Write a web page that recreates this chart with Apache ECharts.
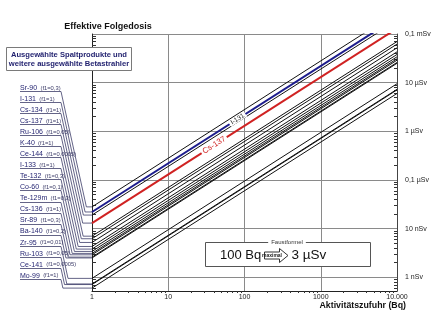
<!DOCTYPE html>
<html><head><meta charset="utf-8">
<script src="https://cdn.jsdelivr.net/npm/echarts@6/dist/echarts.min.js"></script>
<style>html,body{margin:0;padding:0;background:#fff}#c{width:440px;height:330px}</style>
</head><body><div id="c"></div>
<script>
// ---- data ----
const nuclides = ['Sr-90','I-131','Cs-134','Cs-137','Ru-106','K-40','Ce-144','I-133','Te-132','Co-60','Te-129m','Cs-136','Sr-89','Ba-140','Zr-95','Ru-103','Ce-141','Mo-99'];
const f1Values = ['0,3','1','1','1','0,05','1','0,0005','1','0,3','0,1','0,3','1','0,3','0,2','0,01','0,05','0,0005','1'];
// dose per Bq (Sv/Bq) = value of each line at 1 Bq
const doseCoefficients = [2.8e-8,2.2e-8,1.9e-8,1.3e-8,7.0e-9,6.2e-9,5.2e-9,4.3e-9,3.8e-9,3.4e-9,3.1e-9,2.9e-9,2.6e-9,2.5e-9,9.5e-10,7.3e-10,7.1e-10,6.0e-10];
const activityRange = [1, 10000];
const xTickValues = [1, 10, 100, 1000, 10000];
const xTickLabels = ['1', '10', '100', '1000', '10.000'];
const yTickValues = [1e-4, 1e-5, 1e-6, 1e-7, 1e-8, 1e-9];
const yTickLabels = ['0,1 mSv', '10 µSv', '1 µSv', '0,1 µSv', '10 nSv', '1 nSv'];
const yRange = [5.23e-10, 1e-4];

// ---- helpers ----
const FONT = "'Liberation Sans', Arial, sans-serif";
function labelFor(vals, labels) {
  return function (v) {
    for (let i = 0; i < vals.length; i++) {
      if (Math.abs(Math.log10(v) - Math.log10(vals[i])) < 1e-6) return labels[i];
    }
    return '';
  };
}
function minorTicks(lo, hi) {
  const out = [];
  for (let e = lo; e < hi; e++) for (let m = 2; m <= 9; m++) out.push(+(m * Math.pow(10, e)).toPrecision(6));
  return out;
}
const xMinor = minorTicks(0, 4);
const yMinor = minorTicks(-10, -4).filter(v => v >= yRange[0] && v <= yRange[1]);

const chart = echarts.init(document.getElementById('c'), null, { renderer: 'canvas' });

const series = nuclides.map((n, i) => {
  const c = doseCoefficients[i];
  const special = n === 'I-131' ? '#1c1c8c' : (n === 'Cs-137' ? '#d02222' : null);
  const s = {
    type: 'line', name: n, xAxisIndex: 0, yAxisIndex: 0,
    data: activityRange.map(a => [a, c * a]),
    symbol: 'none', clip: true, silent: true, animation: false,
    lineStyle: { color: special || '#111', width: special ? 2 : 1 },
    z: special ? 4 : 3
  };
  if (n === 'I-131') {
    s.markPoint = { symbol: 'circle', symbolSize: 0, silent: true, animation: false,
      data: [{ coord: [81, c * 81] }],
      label: { show: true, formatter: 'I-131', rotate: 32.5, color: '#222', fontSize: 6.5, fontFamily: FONT,
        backgroundColor: '#fff', padding: [0, 2], lineHeight: 6, position: 'inside' } };
  }
  if (n === 'Cs-137') {
    s.markPoint = { symbol: 'circle', symbolSize: 0, silent: true, animation: false,
      data: [{ coord: [40, c * 40] }],
      label: { show: true, formatter: 'Cs-137', rotate: 32.5, color: '#d02222', fontSize: 8, fontFamily: FONT,
        backgroundColor: '#fff', padding: [0, 2], lineHeight: 8, position: 'inside' } };
  }
  return s;
});

const gridCol = '#8a8a8a';
const option = {
  animation: false,
  backgroundColor: '#fff',
  textStyle: { fontFamily: FONT },
  grid: { left: 92, right: 43, top: 34, bottom: 39, containLabel: false },
  xAxis: [
    { type: 'log', logBase: 10, min: activityRange[0], max: activityRange[1], position: 'bottom',
      axisLine: { show: true, lineStyle: { color: '#222', width: 1 } },
      axisTick: { show: false },
      splitLine: { show: true, lineStyle: { color: gridCol, width: 1 } },
      axisLabel: { show: true, fontSize: 7, color: '#222', margin: 3, formatter: labelFor(xTickValues, xTickLabels) } },
    { type: 'log', logBase: 10, min: activityRange[0], max: activityRange[1], position: 'bottom',
      axisLine: { show: false }, splitLine: { show: false }, axisLabel: { show: false },
      axisTick: { show: true, inside: false, length: 2, customValues: xMinor, lineStyle: { color: '#333' } } }
  ],
  yAxis: [
    { type: 'log', logBase: 10, min: yRange[0], max: yRange[1], position: 'left',
      axisLine: { show: true, lineStyle: { color: '#222', width: 1 } },
      axisTick: { show: false }, axisLabel: { show: false },
      splitLine: { show: true, lineStyle: { color: gridCol, width: 1 } } },
    { type: 'log', logBase: 10, min: yRange[0], max: yRange[1], position: 'right',
      axisLine: { show: true, lineStyle: { color: '#444', width: 1 } },
      axisTick: { show: false }, splitLine: { show: false },
      axisLabel: { show: true, fontSize: 7, color: '#222', margin: 8, formatter: labelFor(yTickValues, yTickLabels) } },
    { type: 'log', logBase: 10, min: yRange[0], max: yRange[1], position: 'left',
      axisLine: { show: false }, splitLine: { show: false }, axisLabel: { show: false },
      axisTick: { show: true, inside: true, length: 4, customValues: yMinor, lineStyle: { color: '#333' } } },
    { type: 'log', logBase: 10, min: yRange[0], max: yRange[1], position: 'right',
      axisLine: { show: false }, splitLine: { show: false }, axisLabel: { show: false },
      axisTick: { show: true, inside: true, length: 3, customValues: yMinor, lineStyle: { color: '#333' } } }
  ],
  series: series
};
chart.setOption(option);

// ---- annotations ----
const g = [];
const navy = '#1f1f6e';
g.push({ type: 'text', x: 108, y: 27, z: 100, style: { text: 'Effektive Folgedosis', font: 'bold 9px ' + FONT, fill: '#111', textAlign: 'center', textVerticalAlign: 'middle' } });
g.push({ type: 'rect', z: 100, shape: { x: 6.5, y: 47.5, width: 125, height: 23 }, style: { fill: '#fff', stroke: '#7a7a7a', lineWidth: 1 } });
g.push({ type: 'text', x: 69, y: 54.5, z: 101, style: { text: 'Ausgewählte Spaltprodukte und', font: 'bold 7.6px ' + FONT, fill: navy, textAlign: 'center', textVerticalAlign: 'middle' } });
g.push({ type: 'text', x: 69, y: 63.5, z: 101, style: { text: 'weitere ausgewählte Betastrahler', font: 'bold 7.6px ' + FONT, fill: navy, textAlign: 'center', textVerticalAlign: 'middle' } });
g.push({ type: 'text', x: 406, y: 306, z: 100, style: { text: 'Aktivitätszufuhr (Bq)', font: 'bold 8.8px ' + FONT, fill: '#111', textAlign: 'right', textVerticalAlign: 'middle' } });

// labels + leader lines
const labelTop = 88.3, labelStep = 11.02;
nuclides.forEach((n, i) => {
  const yc = labelTop + i * labelStep;
  const yU = Math.round(yc + 3) + 0.5;
  const p = chart.convertToPixel({ xAxisIndex: 0, yAxisIndex: 0 }, [activityRange[0], doseCoefficients[i]]);
  const ty = p[1];
  const kx = 61 + 0.22 * (ty - yU);
  g.push({ type: 'polyline', z: 99, silent: true, shape: { points: [[20, yU], [61, yU], [kx, ty], [p[0], ty]] },
    style: { stroke: '#3c3c68', lineWidth: 0.8, fill: null } });
  g.push({ type: 'text', x: 20, y: yc, z: 100, style: {
    text: '{a|' + n + '} {b|(f1=' + f1Values[i] + ')}',
    rich: { a: { fontSize: 7, fontFamily: FONT, fill: navy, fontWeight: 'normal' }, b: { fontSize: 5.8, fontFamily: FONT, fill: '#3c3c68' } },
    textVerticalAlign: 'middle', textAlign: 'left' } });
});

// rule of thumb box
g.push({ type: 'rect', z: 100, shape: { x: 205.5, y: 242.5, width: 165, height: 24 }, style: { fill: '#fff', stroke: '#555', lineWidth: 1 } });
g.push({ type: 'text', x: 287, y: 242.5, z: 102, style: { text: 'Faustformel', font: '6px ' + FONT, fill: '#333', textAlign: 'center', textVerticalAlign: 'middle', backgroundColor: '#fff', padding: [0, 3] } });
g.push({ type: 'text', x: 220, y: 255.5, z: 101, style: { text: '100 Bq', font: '13px ' + FONT, fill: '#111', textAlign: 'left', textVerticalAlign: 'middle' } });
g.push({ type: 'polygon', z: 101, shape: { points: [[264.5, 252], [279.5, 252], [279.5, 248.5], [288, 255.5], [279.5, 262.5], [279.5, 259], [264.5, 259]] }, style: { fill: '#fff', stroke: '#333', lineWidth: 1 } });
g.push({ type: 'text', x: 272, y: 255.7, z: 102, style: { text: 'maximal', font: 'bold 5px ' + FONT, fill: '#222', textAlign: 'center', textVerticalAlign: 'middle' } });
g.push({ type: 'text', x: 291.5, y: 255.5, z: 101, style: { text: '3 µSv', font: '13.5px ' + FONT, fill: '#111', textAlign: 'left', textVerticalAlign: 'middle' } });

chart.setOption({ graphic: g });
</script>
</body></html>
